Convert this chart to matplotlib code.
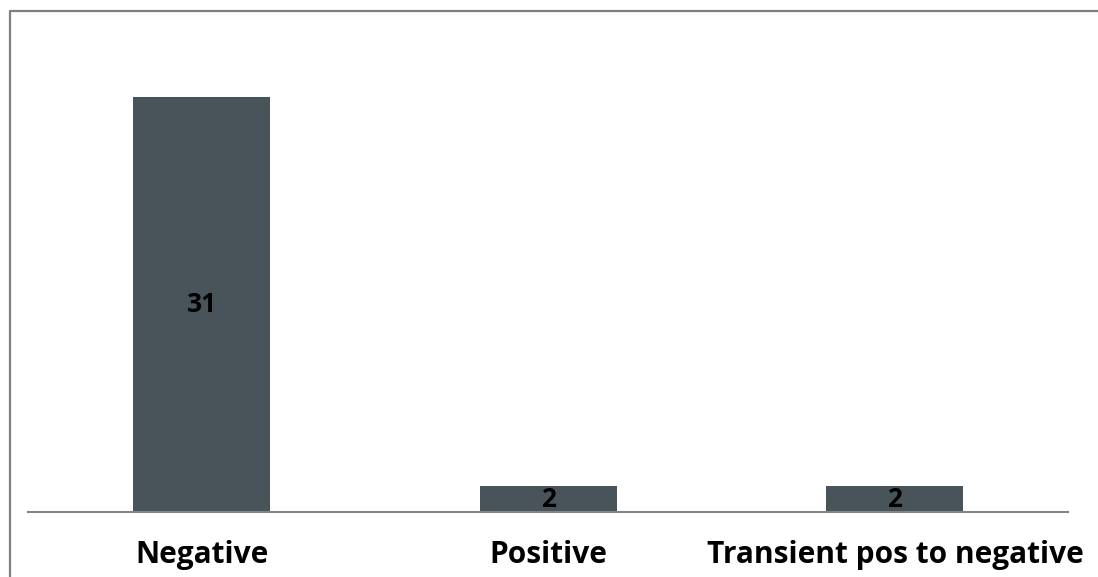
import matplotlib.pyplot as plt
from matplotlib.lines import Line2D

categories = ['Negative', 'Positive', 'Transient pos to negative']
counts = [31, 2, 2]

bar_color = '#48545a'
frame_color = '#858585'
label_font = 'Open Sans'

fig = plt.figure(figsize=(10.98, 5.77), dpi=100)
ax = fig.add_axes([0.02573, 0.1118, 0.9472, 0.8128])

x = range(len(categories))
bars = ax.bar(x, counts, width=0.395, color=bar_color, edgecolor='none')

# value labels sit in the middle of each bar
for xi, v in zip(x, counts):
    ax.text(xi, v / 2, str(v), ha='center', va='center',
            fontsize=19, fontweight='bold', family=label_font, color='black')

ax.set_xlim(-0.5, 2.5)
ax.set_ylim(0, 35)
ax.set_xticks(list(x))
ax.set_xticklabels(categories, fontsize=21.5, fontweight='bold', family=label_font)
ax.tick_params(axis='x', length=0, pad=20)
ax.set_yticks([])
for side in ('top', 'right', 'left'):
    ax.spines[side].set_visible(False)
ax.spines['bottom'].set_color(frame_color)
ax.spines['bottom'].set_linewidth(1.5)

# outer border, runs off the right and bottom edges
W, H = 1098, 577
fig.add_artist(Line2D([9.5 / W, 9.5 / W, 1.0], [0.0, 1 - 10.5 / H, 1 - 10.5 / H],
                      transform=fig.transFigure, color='#7f7f7f', linewidth=1.6))

fig.savefig('out.png', dpi=100, facecolor='white')
